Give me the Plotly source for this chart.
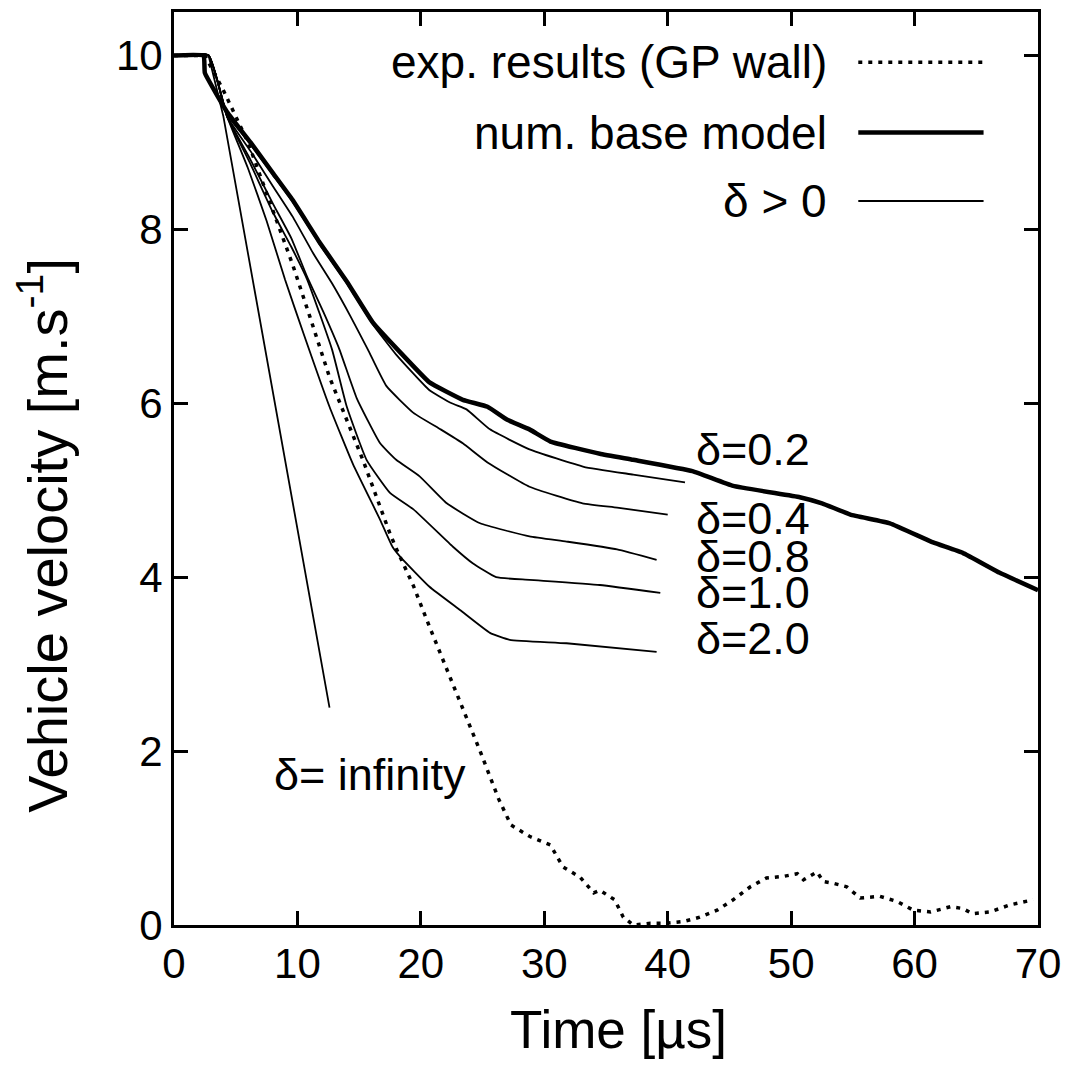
import plotly.graph_objects as go

# ---- data ----
base_t = [0, 2.4, 2.5, 4.3, 6.2, 8, 9.6, 11.8, 14, 16.1, 18.1, 20.7, 23.4, 25.4, 27, 28.8, 30.5,
          34.5, 37.2, 42, 45.3, 50.7, 52.5, 54.8, 58, 61.5, 63.9, 66.9, 70]
base_v = [10, 10, 9.8, 9.35, 9.0, 8.65, 8.34, 7.85, 7.4, 6.93, 6.62, 6.24, 6.04, 5.96, 5.81, 5.70, 5.56,
          5.42, 5.35, 5.22, 5.05, 4.92, 4.85, 4.72, 4.62, 4.40, 4.28, 4.05, 3.85]

exp_t = [0, 2.5, 4, 6, 7.8, 9.6, 11, 12.6, 15.3, 17.5, 18.1, 19.4, 20.7, 22.4, 23.6, 24.8, 26.3, 27.3,
         28.8, 30.5, 31.5, 32.9, 34.0, 34.5, 35.7, 36.4, 37.2, 38.6, 39.9, 41.3, 42.6, 44.0, 45.3,
         46.7, 48.0, 49.4, 50.5, 51.0, 52.1, 52.6, 53.4, 54.5, 55.6, 57.2, 58.6, 59.9, 61.3, 62.9,
         63.9, 64.7, 66.1, 67.7, 69.6]
exp_v = [10, 10, 9.6, 9.0, 8.3, 7.6, 7.0, 6.3, 5.35, 4.5, 4.3, 3.9, 3.43, 2.84, 2.40, 2.0, 1.45, 1.15,
         1.02, 0.92, 0.67, 0.55, 0.37, 0.40, 0.29, 0.09, 0.0, 0.02, 0.02, 0.04, 0.09, 0.17, 0.29,
         0.44, 0.54, 0.56, 0.59, 0.52, 0.61, 0.50, 0.48, 0.44, 0.31, 0.33, 0.27, 0.17, 0.15, 0.21,
         0.19, 0.13, 0.15, 0.23, 0.29]

d02_t = [0, 2.8, 4.3, 6.2, 8, 9.6, 11.8, 14, 16.1, 18.0, 20.7, 22.5, 23.7, 25.6, 28.8, 33.2, 37.2, 41.4]
d02_v = [10, 10, 9.32, 8.98, 8.63, 8.32, 7.83, 7.38, 6.91, 6.56, 6.15, 6.0, 5.93, 5.70, 5.47, 5.27, 5.18, 5.09]

d04_t = [0, 2.8, 4.3, 6.2, 8, 9.6, 11.3, 12.8, 14.3, 15.7, 17.2, 19.4, 21.6, 23.4, 25.4, 28.8, 33.1, 35.9, 40]
d04_v = [10, 10, 9.3, 8.9, 8.5, 8.15, 7.72, 7.38, 7.0, 6.62, 6.20, 5.89, 5.70, 5.54, 5.32, 5.04, 4.85, 4.80, 4.72]

d08_t = [0, 2.8, 4.3, 6.2, 8, 9.5, 10.8, 12.1, 13.4, 14.8, 16.7, 18.0, 19.9, 22.1, 24.8, 28.8, 31.8, 35.9, 39.1]
d08_v = [10, 10, 9.3, 8.8, 8.3, 7.9, 7.45, 7.05, 6.62, 6.06, 5.54, 5.35, 5.16, 4.85, 4.62, 4.47, 4.41, 4.32, 4.2]

d10_t = [0, 2.8, 4.3, 6.2, 8, 9.5, 10.8, 12.8, 14.0, 15.6, 17.5, 19.4, 22.6, 24.2, 26.1, 28.8, 34.5, 39.4]
d10_v = [10, 10, 9.3, 8.75, 8.2, 7.8, 7.42, 6.62, 5.96, 5.35, 4.97, 4.78, 4.35, 4.16, 4.0, 3.97, 3.91, 3.82]

d20_t = [0, 2.8, 4.3, 6, 7.5, 9.0, 10.5, 12.6, 14.5, 16.7, 17.7, 18.3, 20.7, 23.2, 25.6, 27.2, 31.8, 39.1]
d20_v = [10, 10, 9.3, 8.7, 8.1, 7.42, 6.8, 5.96, 5.3, 4.66, 4.35, 4.24, 3.89, 3.62, 3.36, 3.28, 3.24, 3.14]

dinf_t = [0, 2.8, 4.0, 12.6]
dinf_v = [10, 10, 9.3, 2.5]

curve_labels = ["δ=0.2", "δ=0.4", "δ=0.8", "δ=1.0", "δ=2.0", "δ= infinity"]
label_x = [42.1, 42.1, 42.1, 42.1, 42.1, 7.9]
label_y = [5.47, 4.68, 4.24, 3.82, 3.30, 1.73]

legend_labels = ["exp. results (GP wall)", "num. base model", "δ > 0"]

x_ticks = [0, 10, 20, 30, 40, 50, 60, 70]
y_ticks = [0, 2, 4, 6, 8, 10]

x_title = "Time [µs]"
y_title = "Vehicle velocity [m.s<sup>-1</sup>]"

FONT = "Liberation Sans, Arial, Helvetica, sans-serif"

fig = go.Figure()

thin = dict(color="black", width=1.8, shape="spline", smoothing=0.4)
for t, v in [(d02_t, d02_v), (d04_t, d04_v), (d08_t, d08_v), (d10_t, d10_v), (d20_t, d20_v)]:
    fig.add_trace(go.Scatter(x=t, y=v, mode="lines", line=thin, showlegend=False))
fig.add_trace(go.Scatter(x=dinf_t, y=dinf_v, mode="lines", line=dict(color="black", width=1.8),
                         showlegend=False))

fig.add_trace(go.Scatter(x=exp_t, y=exp_v, mode="lines",
                         line=dict(color="black", width=3.5, dash="4px,6px"), showlegend=False))
fig.add_trace(go.Scatter(x=base_t, y=base_v, mode="lines",
                         line=dict(color="black", width=4.5, shape="spline", smoothing=0.3),
                         showlegend=False))

# curve labels
for txt, lx, ly in zip(curve_labels, label_x, label_y):
    fig.add_annotation(x=lx, y=ly, xref="x", yref="y", text=txt, showarrow=False,
                       xanchor="left", yanchor="middle", font=dict(size=45, color="black", family=FONT))

# legend (text right-aligned, key sample on the right)
leg_rows = [0.945, 0.868, 0.793]
leg_styles = [dict(color="black", width=3.5, dash="4px,6px"),
              dict(color="black", width=4.5),
              dict(color="black", width=1.8)]
for txt, ry, st in zip(legend_labels, leg_rows, leg_styles):
    fig.add_annotation(x=0.758, y=ry, xref="paper", yref="paper", text=txt, showarrow=False,
                       xanchor="right", yanchor="middle", font=dict(size=46, color="black", family=FONT))
    fig.add_shape(type="line", xref="paper", yref="paper", x0=0.792, x1=0.937, y0=ry, y1=ry,
                  line=st)

# axis titles (placed like the reference, slightly off-centre)
fig.add_annotation(x=0.515, y=-0.115, xref="paper", yref="paper", text=x_title, showarrow=False,
                   xanchor="center", yanchor="middle", font=dict(size=53, color="black", family=FONT))
fig.add_annotation(x=-0.151, y=0.427, xref="paper", yref="paper", text=y_title, showarrow=False,
                   textangle=-90, xanchor="center", yanchor="middle",
                   font=dict(size=56, color="black", family=FONT))

axis_common = dict(showline=True, linecolor="black", linewidth=3, mirror="ticks",
                   ticks="inside", ticklen=14, tickwidth=2.5, tickcolor="black",
                   showgrid=False, zeroline=False,
                   tickfont=dict(size=42, color="black", family=FONT))

fig.update_xaxes(range=[0, 70], tickvals=x_ticks, ticktext=[str(v) for v in x_ticks], **axis_common)
fig.update_yaxes(range=[0, 10.5], tickvals=y_ticks, ticktext=[str(v) for v in y_ticks], **axis_common)

fig.update_layout(width=1071, height=1071, plot_bgcolor="white", paper_bgcolor="white",
                  margin=dict(l=166, r=41, t=4, b=154, autoexpand=False), showlegend=False)

fig.write_html("out.html")
